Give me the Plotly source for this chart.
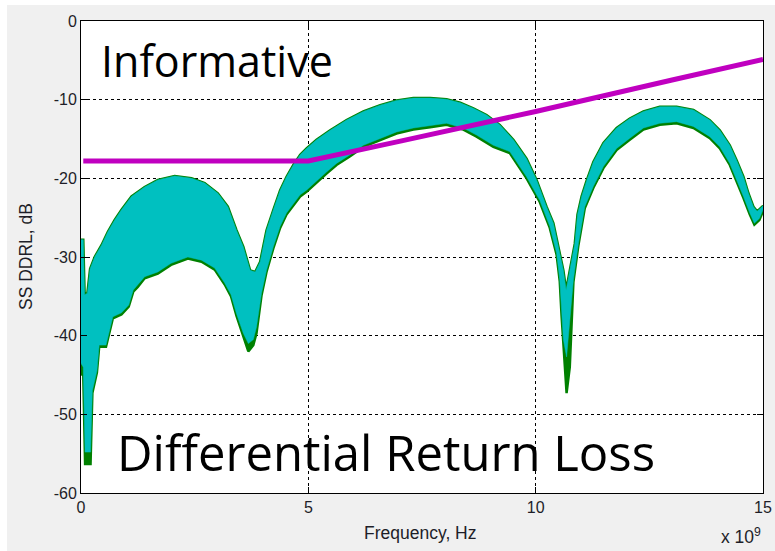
import plotly.graph_objects as go

# ---- data (frequency in GHz, values in dB) ----
HI_F = [0.00, 0.05, 0.08, 0.14, 0.20, 0.30, 0.45, 0.59, 0.74, 0.89, 1.11, 1.40, 1.69, 2.06, 2.43, 2.72,
        3.01, 3.23, 3.42, 3.57, 3.72, 3.83, 3.94, 4.08, 4.23, 4.38, 4.52, 4.67, 4.82, 4.96, 5.18, 5.48,
        5.84, 6.21, 6.58, 6.94, 7.31, 7.68, 8.04, 8.34, 8.63, 8.92, 9.21, 9.51, 9.80, 10.02, 10.24, 10.39,
        10.50, 10.61, 10.67, 10.75, 10.86, 10.92, 11.01, 11.12, 11.27, 11.49, 11.78, 12.07, 12.37, 12.73,
        13.10, 13.47, 13.83, 14.05, 14.27, 14.42, 14.57, 14.68, 14.79, 14.87, 14.97, 15.00]
HI_DB = [-27.8, -27.8, -34.8, -34.6, -31.5, -30.0, -28.5, -26.8, -25.3, -24.0, -22.3, -21.1, -20.2, -19.7, -20.0, -20.6,
         -21.9, -23.6, -26.6, -28.7, -31.7, -31.9, -30.6, -26.6, -24.0, -21.5, -19.8, -18.3, -17.0, -16.2, -15.1, -13.9,
         -12.6, -11.5, -10.7, -10.1, -9.8, -9.8, -9.95, -10.4, -11.1, -11.95, -13.2, -15.1, -17.5, -20.2, -23.6, -25.7,
         -28.7, -31.7, -34.2, -31.7, -28.3, -24.6, -22.3, -20.3, -17.9, -15.5, -13.6, -12.4, -11.5, -10.9,
         -10.9, -11.3, -12.6, -13.9, -15.8, -17.7, -19.8, -21.9, -23.6, -24.2, -23.6, -23.5]

LO_F = [0.00, 0.05, 0.09, 0.21, 0.25, 0.35, 0.40, 0.55, 0.60, 0.70, 0.89, 1.05, 1.15, 1.25, 1.40, 1.69,
        1.98, 2.35, 2.65, 2.94, 3.16, 3.30, 3.42, 3.57, 3.68, 3.79, 3.86, 3.97, 4.08, 4.23, 4.38, 4.52,
        4.67, 4.82, 4.96, 5.18, 5.40, 5.62, 5.92, 6.21, 6.58, 6.94, 7.31, 7.68, 8.04, 8.41, 8.70, 9.07,
        9.43, 9.80, 10.09, 10.31, 10.46, 10.53, 10.57, 10.61, 10.68, 10.75, 10.83, 10.94, 11.08, 11.27,
        11.49, 11.78, 12.07, 12.37, 12.73, 13.10, 13.47, 13.83, 14.05, 14.27, 14.42, 14.57, 14.71, 14.81,
        14.92, 15.00]
CYAN_LO_DB = [-43.5, -44.0, -54.8, -54.8, -47.0, -44.5, -41.2, -41.2, -39.8, -37.6, -37.1, -36.1, -34.2, -33.6, -32.5, -31.9,
              -30.8, -30.0, -30.4, -31.4, -33.3, -34.8, -37.2, -39.7, -41.0, -40.5, -38.9, -34.6, -31.7, -28.7, -26.1, -24.4,
              -23.2, -22.1, -21.5, -20.4, -19.2, -18.1, -17.0, -15.8, -14.9, -14.1, -13.6, -13.3, -13.0, -13.6, -14.5, -15.8,
              -16.6, -19.8, -22.8, -26.1, -29.5, -32.9, -37.2, -40.5, -42.7, -38.0, -32.9, -28.3, -23.6, -21.0,
              -18.5, -16.2, -14.9, -13.6, -13.0, -12.8, -13.4, -14.7, -16.0, -18.1, -20.2, -22.3, -24.4, -25.7,
              -25.1, -24.0]
GREEN_LO_DB = [-44.9, -45.0, -56.3, -56.3, -47.3, -44.7, -41.4, -41.4, -40.0, -37.8, -37.3, -36.3, -34.4, -33.8, -32.7, -32.1,
               -31.0, -30.2, -30.6, -31.6, -33.5, -35.0, -37.5, -40.0, -42.0, -41.2, -39.7, -34.9, -31.9, -28.9, -26.3, -24.6,
               -23.4, -22.3, -21.7, -20.6, -19.4, -18.3, -17.2, -16.0, -15.1, -14.3, -13.8, -13.5, -13.2, -13.8, -14.7, -16.0,
               -16.8, -20.0, -23.0, -26.3, -29.7, -33.1, -37.5, -41.5, -47.3, -44.0, -33.2, -28.5, -23.8, -21.2,
               -18.7, -16.4, -15.1, -13.8, -13.2, -13.0, -13.6, -14.9, -16.2, -18.3, -20.4, -22.5, -24.6, -25.9,
               -25.3, -24.2]

LIMIT_F = [0.05, 5.0, 7.0, 10.0, 13.0, 15.0]
LIMIT_DB = [-17.8, -17.8, -15.3, -11.5, -7.5, -4.9]

X_TICKS = [0, 5, 10, 15]
Y_TICKS = [0, -10, -20, -30, -40, -50, -60]

CYAN = "#00c0c0"
GREEN = "#008000"
MAGENTA = "#c000c0"

fig = go.Figure()

def band(hi_f, hi_db, lo_f, lo_db):
    xs = list(hi_f) + list(reversed(lo_f))
    ys = list(hi_db) + list(reversed(lo_db))
    return xs, ys

gx, gy = band(HI_F, HI_DB, LO_F, GREEN_LO_DB)
fig.add_trace(go.Scatter(x=gx, y=gy, mode="lines", fill="toself", fillcolor=GREEN,
                         line=dict(color=GREEN, width=2.5), hoverinfo="skip", showlegend=False))
cx, cy = band(HI_F, HI_DB, LO_F, CYAN_LO_DB)
fig.add_trace(go.Scatter(x=cx, y=cy, mode="lines", fill="toself", fillcolor=CYAN,
                         line=dict(color=CYAN, width=0.5), hoverinfo="skip", showlegend=False))
fig.add_trace(go.Scatter(x=LIMIT_F, y=LIMIT_DB, mode="lines",
                         line=dict(color=MAGENTA, width=5), hoverinfo="skip", showlegend=False))

tickfont = dict(family="Liberation Sans, Arial, sans-serif", size=16, color="#1e1e28")
titlefont = dict(family="Liberation Sans, Arial, sans-serif", size=17.5, color="#1e1e28")

common = dict(showgrid=True, gridcolor="black", griddash="3px,3px", gridwidth=1,
              showline=True, linecolor="black", linewidth=1, mirror="ticks",
              ticks="inside", ticklen=6, tickcolor="black", zeroline=False,
              tickfont=tickfont, automargin=False)
fig.update_xaxes(range=[0, 15], tickvals=X_TICKS, ticktext=[str(v) for v in X_TICKS], **common)
fig.update_yaxes(range=[-60, 0], tickvals=Y_TICKS, ticktext=[str(v) for v in Y_TICKS], **common)

L, R, T, B = 81, 12, 21, 58
W, H = 775, 551
pw, ph = W - L - R, H - T - B

def px2x(px):
    return (px - L) / pw

def py2y(py):
    return (H - B - py) / ph

fig.update_layout(
    width=W, height=H,
    margin=dict(l=L, r=R, t=T, b=B, pad=0),
    paper_bgcolor="#f0f0f0", plot_bgcolor="white",
    shapes=[
        dict(type="rect", xref="paper", yref="paper", x0=px2x(0), x1=px2x(W), y0=py2y(5), y1=py2y(0),
             fillcolor="white", line=dict(width=0), layer="below"),
        dict(type="rect", xref="paper", yref="paper", x0=px2x(0), x1=px2x(7), y0=py2y(H), y1=py2y(0),
             fillcolor="white", line=dict(width=0), layer="below"),
    ],
    annotations=[
        dict(text="Informative", xref="paper", yref="paper", x=px2x(99), y=py2y(60),
             xanchor="left", yanchor="middle", showarrow=False,
             font=dict(family="Open Sans, sans-serif", size=43, color="black")),
        dict(text="Differential Return Loss", xref="paper", yref="paper", x=px2x(386), y=py2y(452),
             xanchor="center", yanchor="middle", showarrow=False,
             font=dict(family="Open Sans, sans-serif", size=49, color="black")),
        dict(text="Frequency, Hz", xref="paper", yref="paper", x=px2x(420), y=py2y(533),
             xanchor="center", yanchor="middle", showarrow=False, font=titlefont),
        dict(text="SS DDRL, dB", xref="paper", yref="paper", x=px2x(26), y=py2y(257),
             xanchor="center", yanchor="middle", textangle=-90, showarrow=False, font=titlefont),
        dict(text="x 10<sup>9</sup>", xref="paper", yref="paper", x=px2x(763), y=py2y(549),
             xanchor="right", yanchor="bottom", showarrow=False, font=titlefont),
    ],
)

fig.write_html("out.html")
